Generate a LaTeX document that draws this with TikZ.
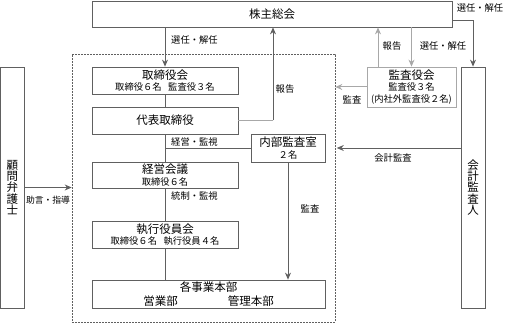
\documentclass[tikz,border=0pt]{standalone}
\usepackage{fontspec}
\setmainfont{Noto Sans CJK JP}
\usetikzlibrary{arrows.meta,calc}
\definecolor{boxline}{HTML}{606060}
\definecolor{lightline}{HTML}{A8A8A8}
\newcommand\subtxt[1]{{\fontsize{9.3}{10.5}\selectfont #1}}
\newcommand\wsp{\hspace{0.7em}}
\tikzset{
  orgbox/.style={draw=boxline,line width=0.8pt,rectangle,inner sep=0pt,align=center,
    font=\fontsize{11.5}{12.5}\selectfont},
  lbl/.style={font=\fontsize{9.3}{10}\selectfont,inner sep=0pt},
  conn/.style={draw=boxline,line width=0.8pt},
  lconn/.style={draw=lightline,line width=1pt},
  arr/.style={-{Stealth[length=7pt,width=6pt]}},
}
\begin{document}
\begin{tikzpicture}[x=1pt,y=-1pt]
\useasboundingbox (0,0) rectangle (506,323);
% dashed organization frame
\node[draw=boxline,dashed,dash pattern=on 2pt off 1pt,line width=0.6pt,minimum width=263pt,minimum height=268pt,inner sep=0pt] (org) at (203.5,188) {};
% boxes
\node[orgbox,minimum width=360pt,minimum height=26pt] (soukai) at (272,14) {株主総会};
\node[orgbox,minimum width=146pt,minimum height=27pt] (tori) at (165,80.5) {取締役会\\[-1pt]\subtxt{取締役６名\wsp 監査役３名}};
\node[orgbox,minimum width=146pt,minimum height=27pt] (daihyo) at (165,120.5) {代表取締役};
\node[orgbox,minimum width=74pt,minimum height=28pt] (naibu) at (288,148) {内部監査室\\[-1pt]\subtxt{２名}};
\node[orgbox,minimum width=146pt,minimum height=26pt] (keiei) at (165,175) {経営会議\\[-1pt]\subtxt{取締役６名}};
\node[orgbox,minimum width=146pt,minimum height=27pt] (shikko) at (165,234.5) {執行役員会\\[-1pt]\subtxt{取締役６名\wsp 執行役員４名}};
\node[orgbox,minimum width=233pt,minimum height=28pt,font=\fontsize{11.5}{14.5}\selectfont] (jigyo) at (208.5,294) {各事業本部\\営業部\hspace{50pt}管理本部};
\node[orgbox,draw=lightline,minimum width=89pt,minimum height=40pt] (kansa) at (411.5,87) {監査役会\\[-1pt]\subtxt{監査役３名}\\[-1pt]\subtxt{(内社外監査役２名)}};
\node[orgbox,minimum width=24pt,minimum height=241pt,font=\fontsize{11.5}{11.2}\selectfont] (kaikei) at (473,187.5) {会\\計\\監\\査\\人};
\node[orgbox,minimum width=23.5pt,minimum height=241pt,font=\fontsize{11.5}{11.2}\selectfont] (komon) at (12.25,187.5) {顧\\問\\弁\\護\\士};
% main chain
\draw[conn,arr] (soukai.south -| tori.north) -- (tori.north);
\draw[conn] (tori.south) -- (daihyo.north);
\draw[conn] (daihyo.south) -- (keiei.north);
\draw[conn] (keiei.south) -- (shikko.north);
\draw[conn] (shikko.south) -- (shikko.south |- jigyo.north);
\draw[conn] (naibu.west) -- (naibu.west -| daihyo.south);
\draw[conn,arr] (naibu.south) -- (naibu.south |- jigyo.north);
% report from daihyo
\coordinate (rep) at (273,0);
\draw[lconn] (daihyo.east) -- (daihyo.east -| rep);
\draw[conn,arr] (daihyo.east -| rep) -- (rep |- soukai.south);
% kansa connections
\coordinate (kup) at (378,0);
\draw[lconn,arr] (kup |- kansa.north) -- (kup |- soukai.south);
\draw[lconn,arr] (kansa.north |- soukai.south) -- (kansa.north);
\draw[lconn,arr] (kansa.west) -- (kansa.west -| org.east);
% accounting auditor
\draw[conn,arr] ([yshift=-6pt]soukai.east) -| (kaikei.north);
\draw[conn,arr] (kaikei.west |- naibu.east) -- ($(org.east |- naibu.east)+(1.5,0)$);
% lawyer
\draw[conn,arr] (komon.east) -- (komon.east -| org.west);
% labels
\node[lbl,anchor=west] (l1) at (171,40) {選任・解任};
\node[lbl] (l2) at (285,89) {報告};
\node[lbl] (l3) at (392,46) {報告};
\node[lbl] (l4) at (443,46) {選任・解任};
\node[lbl] (l5) at (480,8) {選任・解任};
\node[lbl] (l6) at (352,100) {監査};
\node[lbl] (l7) at (393,158) {会計監査};
\node[lbl,anchor=west] (l8) at (171,142) {経営・監視};
\node[lbl,anchor=west] (l9) at (171,196) {統制・監視};
\node[lbl] (l10) at (310,209) {監査};
\node[lbl,font=\fontsize{8.8}{10}\selectfont] (l11) at (48,200) {助言・指導};
\end{tikzpicture}
\end{document}
